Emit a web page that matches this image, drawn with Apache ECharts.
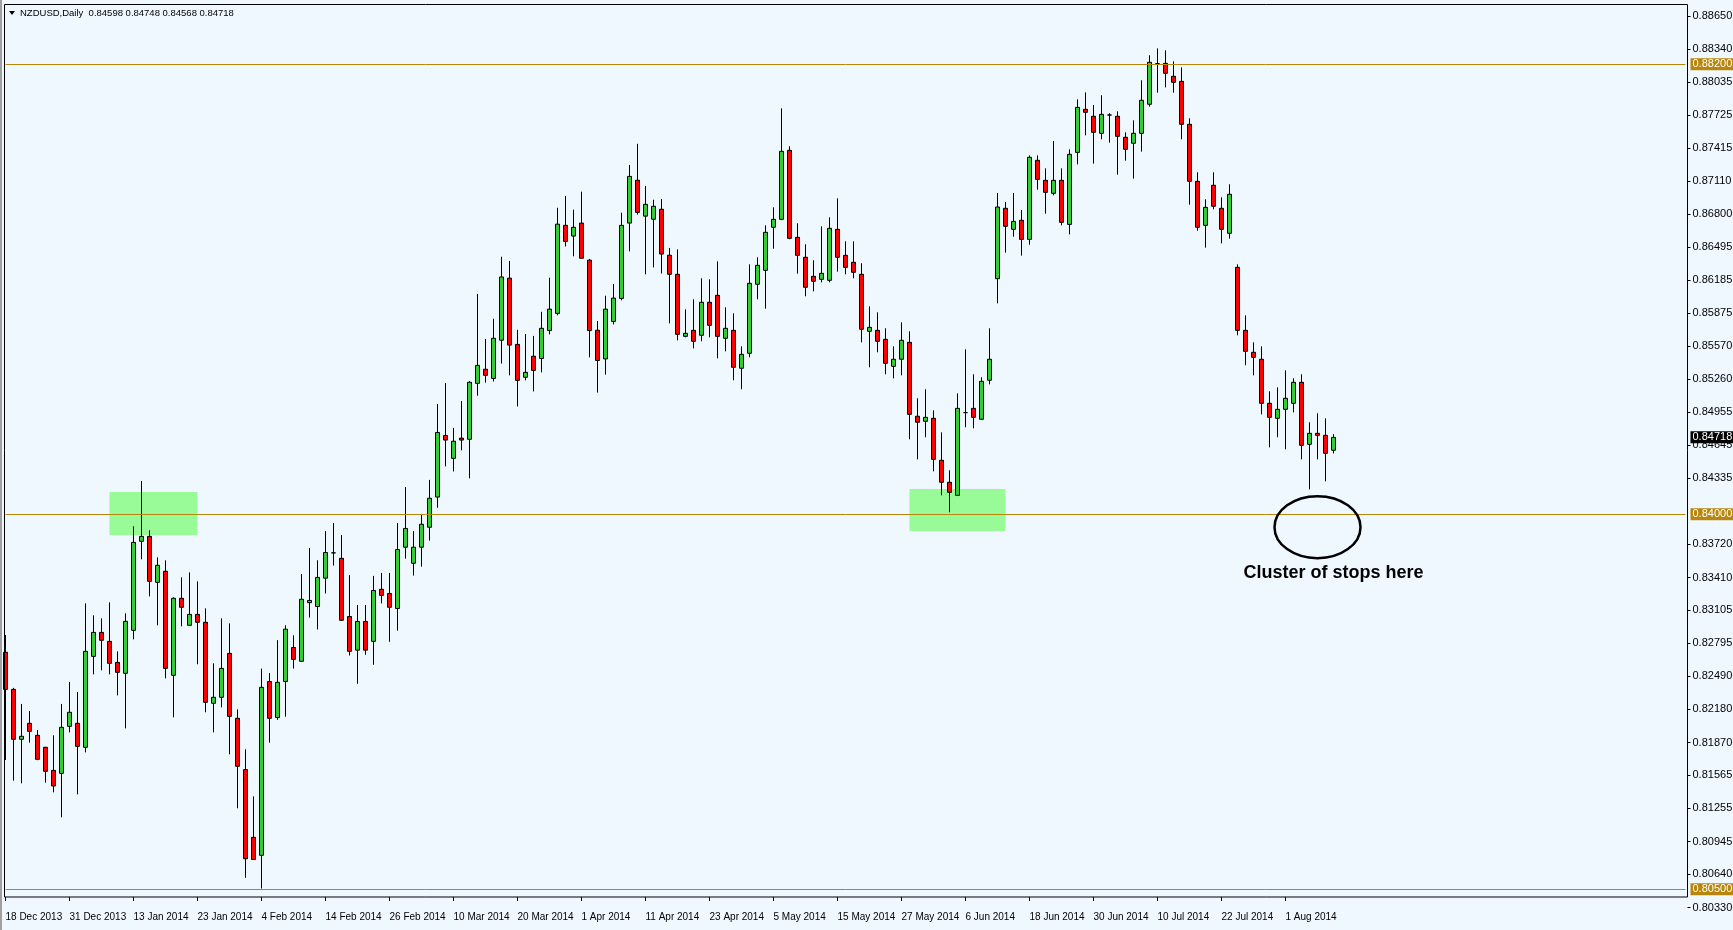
<!DOCTYPE html>
<html><head><meta charset="utf-8">
<script src="https://cdn.jsdelivr.net/npm/echarts@6/dist/echarts.min.js"></script>
<style>html,body{margin:0;padding:0;background:#F0F8FF;overflow:hidden}#c{width:1733px;height:930px}</style>
</head><body><div id="c"></div>
<script>
const dates = ['18 Dec 2013','19 Dec 2013','20 Dec 2013','23 Dec 2013','24 Dec 2013','26 Dec 2013','27 Dec 2013','30 Dec 2013','31 Dec 2013',
'2 Jan 2014','3 Jan 2014','6 Jan 2014','7 Jan 2014','8 Jan 2014','9 Jan 2014','10 Jan 2014','13 Jan 2014','14 Jan 2014','15 Jan 2014','16 Jan 2014','17 Jan 2014','20 Jan 2014','21 Jan 2014','22 Jan 2014','23 Jan 2014','24 Jan 2014','27 Jan 2014','28 Jan 2014','29 Jan 2014','30 Jan 2014','31 Jan 2014',
'3 Feb 2014','4 Feb 2014','5 Feb 2014','6 Feb 2014','7 Feb 2014','10 Feb 2014','11 Feb 2014','12 Feb 2014','13 Feb 2014','14 Feb 2014','17 Feb 2014','18 Feb 2014','19 Feb 2014','20 Feb 2014','21 Feb 2014','24 Feb 2014','25 Feb 2014','26 Feb 2014','27 Feb 2014','28 Feb 2014',
'3 Mar 2014','4 Mar 2014','5 Mar 2014','6 Mar 2014','7 Mar 2014','10 Mar 2014','11 Mar 2014','12 Mar 2014','13 Mar 2014','14 Mar 2014','17 Mar 2014','18 Mar 2014','19 Mar 2014','20 Mar 2014','21 Mar 2014','24 Mar 2014','25 Mar 2014','26 Mar 2014','27 Mar 2014','28 Mar 2014','31 Mar 2014',
'1 Apr 2014','2 Apr 2014','3 Apr 2014','4 Apr 2014','7 Apr 2014','8 Apr 2014','9 Apr 2014','10 Apr 2014','11 Apr 2014','14 Apr 2014','15 Apr 2014','16 Apr 2014','17 Apr 2014','18 Apr 2014','21 Apr 2014','22 Apr 2014','23 Apr 2014','24 Apr 2014','25 Apr 2014','28 Apr 2014','29 Apr 2014','30 Apr 2014',
'1 May 2014','2 May 2014','5 May 2014','6 May 2014','7 May 2014','8 May 2014','9 May 2014','12 May 2014','13 May 2014','14 May 2014','15 May 2014','16 May 2014','19 May 2014','20 May 2014','21 May 2014','22 May 2014','23 May 2014','26 May 2014','27 May 2014','28 May 2014','29 May 2014','30 May 2014',
'2 Jun 2014','3 Jun 2014','4 Jun 2014','5 Jun 2014','6 Jun 2014','9 Jun 2014','10 Jun 2014','11 Jun 2014','12 Jun 2014','13 Jun 2014','16 Jun 2014','17 Jun 2014','18 Jun 2014','19 Jun 2014','20 Jun 2014','23 Jun 2014','24 Jun 2014','25 Jun 2014','26 Jun 2014','27 Jun 2014','30 Jun 2014',
'1 Jul 2014','2 Jul 2014','3 Jul 2014','4 Jul 2014','7 Jul 2014','8 Jul 2014','9 Jul 2014','10 Jul 2014','11 Jul 2014','14 Jul 2014','15 Jul 2014','16 Jul 2014','17 Jul 2014','18 Jul 2014','21 Jul 2014','22 Jul 2014','23 Jul 2014','24 Jul 2014','25 Jul 2014','28 Jul 2014','29 Jul 2014','30 Jul 2014','31 Jul 2014',
'1 Aug 2014','4 Aug 2014','5 Aug 2014','6 Aug 2014','7 Aug 2014','8 Aug 2014','11 Aug 2014'];

const open = [0.82712,0.82366,0.81900,0.82049,0.81937,0.81825,0.81610,0.81582,0.82021,0.82049,
0.81825,0.82674,0.82898,0.82814,0.82618,0.82516,0.82917,0.83748,0.83794,0.83365,
0.83468,0.82497,0.83216,0.82964,0.83066,0.82992,0.82236,0.82292,0.82702,0.82096,
0.81617,0.80985,0.80817,0.82439,0.82103,0.82439,0.82757,0.82628,0.83175,0.83139,
0.83404,0.83640,0.83589,0.83046,0.82732,0.83000,0.82814,0.83300,0.83261,0.83121,
0.83693,0.83543,0.83693,0.83879,0.84161,0.84736,0.84522,0.84711,0.84700,0.85222,
0.85354,0.85268,0.85625,0.86204,0.85586,0.85279,0.85475,0.85454,0.85715,0.85875,
0.86697,0.86597,0.86718,0.86372,0.85718,0.85450,0.85800,0.86015,0.86718,0.87118,
0.86783,0.86754,0.86847,0.86418,0.86240,0.85661,0.85717,0.85671,0.85979,0.86044,
0.85643,0.85717,0.85363,0.85503,0.86147,0.86277,0.86679,0.86753,0.87397,0.86585,
0.86399,0.86221,0.86193,0.86184,0.86660,0.86417,0.86352,0.86240,0.85708,0.85717,
0.85633,0.85381,0.85447,0.85605,0.84915,0.84868,0.84896,0.84504,0.84299,0.84177,
0.84949,0.84989,0.84887,0.85251,0.86199,0.86856,0.86660,0.86744,0.86566,0.87304,
0.87117,0.86996,0.87117,0.86706,0.87378,0.87780,0.87715,0.87556,0.87727,0.87715,
0.87519,0.87463,0.87556,0.87827,0.88206,0.88209,0.88088,0.88041,0.87640,0.87108,
0.86697,0.87071,0.86856,0.86623,0.86305,0.85717,0.85512,0.85447,0.85036,0.84896,
0.84980,0.85036,0.85232,0.84653,0.84756,0.84737,0.84598];

const high = [0.82874,0.82380,0.82230,0.82164,0.81987,0.81830,0.81937,0.82230,0.82435,0.82342,
0.83169,0.83057,0.83029,0.83178,0.82721,0.83076,0.83888,0.84311,0.83850,0.83598,
0.83570,0.83225,0.83412,0.83458,0.83374,0.83122,0.82609,0.83029,0.82982,0.82179,
0.81807,0.81367,0.82560,0.82518,0.82825,0.82964,0.82871,0.83443,0.83686,0.83571,
0.83843,0.83918,0.83807,0.83432,0.83153,0.83153,0.83425,0.83453,0.83453,0.83918,
0.84254,0.83843,0.83996,0.84321,0.85029,0.85225,0.84807,0.85057,0.85243,0.86057,
0.85636,0.85825,0.86404,0.86365,0.85722,0.85682,0.85665,0.85890,0.86208,0.86861,
0.86972,0.86843,0.87011,0.86383,0.85804,0.86040,0.86150,0.86815,0.87261,0.87458,
0.87065,0.86936,0.86943,0.86486,0.86473,0.85913,0.86007,0.86203,0.86193,0.86361,
0.85932,0.85876,0.85568,0.86333,0.86399,0.86697,0.86865,0.87789,0.87435,0.86716,
0.86520,0.86371,0.86688,0.86772,0.86949,0.86548,0.86548,0.86343,0.85941,0.85885,
0.85736,0.85568,0.85792,0.85708,0.85083,0.85167,0.84971,0.84765,0.84411,0.85129,
0.85540,0.85307,0.85279,0.85736,0.86999,0.86915,0.86999,0.86840,0.87350,0.87350,
0.87229,0.87484,0.87229,0.87406,0.87873,0.87938,0.87820,0.87911,0.87743,0.87761,
0.87565,0.87677,0.88051,0.88284,0.88349,0.88331,0.88228,0.88172,0.87696,0.87192,
0.86940,0.87192,0.86959,0.87080,0.86333,0.85857,0.85605,0.85568,0.85148,0.85185,
0.85344,0.85269,0.85307,0.84859,0.84943,0.84896,0.84748];

const low = [0.81707,0.81514,0.81489,0.81869,0.81705,0.81495,0.81405,0.81172,0.81965,0.81386,
0.81778,0.82506,0.82544,0.82506,0.82310,0.82002,0.82833,0.83580,0.83234,0.82964,
0.82469,0.82105,0.82954,0.82960,0.82600,0.82152,0.81965,0.82198,0.81760,0.81256,
0.80607,0.80775,0.80507,0.81868,0.82082,0.82110,0.82560,0.82625,0.83036,0.82925,
0.83261,0.83521,0.83005,0.82682,0.82418,0.82689,0.82596,0.83168,0.82810,0.82914,
0.83586,0.83428,0.83511,0.83754,0.84061,0.84447,0.84400,0.84597,0.84336,0.85107,
0.85229,0.85239,0.85407,0.85297,0.85007,0.85250,0.85147,0.85325,0.85679,0.85857,
0.86500,0.86408,0.86390,0.85465,0.85136,0.85304,0.85772,0.85997,0.86454,0.86797,
0.86240,0.86304,0.86247,0.85782,0.85624,0.85652,0.85549,0.85615,0.85652,0.85456,
0.85521,0.85251,0.85167,0.85465,0.86007,0.85919,0.86479,0.86745,0.86567,0.86246,
0.86035,0.86081,0.86165,0.86165,0.86265,0.86240,0.86203,0.85605,0.85372,0.85512,
0.85307,0.85269,0.85297,0.84700,0.84513,0.84719,0.84401,0.84177,0.84019,0.84170,
0.84812,0.84803,0.84880,0.85213,0.85969,0.86442,0.86591,0.86414,0.86516,0.87030,
0.86806,0.86977,0.86697,0.86613,0.87266,0.87537,0.87273,0.87500,0.87469,0.87170,
0.87301,0.87133,0.87385,0.87805,0.87935,0.87985,0.87935,0.87500,0.86890,0.86647,
0.86489,0.86847,0.86529,0.86573,0.85671,0.85391,0.85297,0.84933,0.84625,0.84719,
0.84607,0.84952,0.84513,0.84233,0.84513,0.84308,0.84568];

const close = [0.82366,0.81900,0.81928,0.81974,0.81713,0.81601,0.81464,0.82012,0.82152,0.81834,
0.82721,0.82898,0.82824,0.82609,0.82525,0.83001,0.83738,0.83794,0.83374,0.83524,
0.82562,0.83216,0.83132,0.83066,0.82992,0.82245,0.82292,0.82562,0.82114,0.81648,
0.80785,0.80778,0.82385,0.82096,0.82432,0.82928,0.82646,0.83207,0.83196,0.83411,
0.83643,0.83640,0.83011,0.82721,0.83000,0.82732,0.83289,0.83243,0.83132,0.83671,
0.83868,0.83693,0.83907,0.84150,0.84764,0.84693,0.84682,0.84693,0.85232,0.85390,
0.85297,0.85643,0.86215,0.85579,0.85250,0.85325,0.85343,0.85736,0.85915,0.86708,
0.86547,0.86679,0.86390,0.85715,0.85436,0.85915,0.86018,0.86697,0.87154,0.86818,
0.86893,0.86875,0.86429,0.86240,0.85680,0.85689,0.85615,0.85979,0.85764,0.85661,
0.85736,0.85372,0.85493,0.86156,0.86324,0.86632,0.86753,0.87388,0.86576,0.86417,
0.86119,0.86175,0.86249,0.86669,0.86399,0.86305,0.86259,0.85727,0.85745,0.85615,
0.85409,0.85447,0.85624,0.84933,0.84859,0.84905,0.84513,0.84299,0.84205,0.84989,
0.84949,0.84905,0.85241,0.85447,0.86868,0.86688,0.86734,0.86566,0.87332,0.87126,
0.87005,0.87117,0.86725,0.87360,0.87798,0.87752,0.87565,0.87733,0.87727,0.87528,
0.87407,0.87556,0.87864,0.88219,0.88206,0.88116,0.88032,0.87640,0.87108,0.86679,
0.86865,0.86875,0.86660,0.86987,0.85717,0.85521,0.85465,0.85036,0.84905,0.84980,
0.85083,0.85232,0.84644,0.84756,0.84737,0.84569,0.84718];

const yTickLabels = ['0.88650','0.88340','0.88035','0.87725','0.87415','0.87110','0.86800','0.86495','0.86185',
'0.85875','0.85570','0.85260','0.84955','0.84645','0.84335','0.83720','0.83410','0.83105','0.82795','0.82490',
'0.82180','0.81870','0.81565','0.81255','0.80945','0.80640','0.80330'];

const levelLines = ['0.88200','0.84000','0.80500'];
const lastPrice = '0.84718';
const header = 'NZDUSD,Daily  0.84598 0.84748 0.84568 0.84718';
// green zones: [from date index, to date index, upper price, lower price]
const zoneFrom = [13, 113];
const zoneTo = [24, 125];
const zoneTop = [0.84208, 0.84236];
const zoneBottom = [0.83807, 0.83844];
const noteText = 'Cluster of stops here';
const ellipseAnchor = [164, 0.83880];
const noteAnchor = [166, 0.83452];

// ---- layout ----
const SLOTS = 211;
const GRID_LEFT = 5.5, GRID_TOP = 4, GRID_W = 1680, GRID_BOTTOM_PX = 907.5;
const FRAME = {x: 4.5, y: 4.5, w: 1683, h: 892.5};
const Y_MIN = 0.80330, Y_MAX = 0.887629;
const FONT = '"Liberation Sans", Arial, sans-serif';
const GOLD = '#B8860B';

const cats = dates.slice();
for (let k = dates.length; k < SLOTS; k++) cats.push('\u200b' + k);
const candles = dates.map((d, i) => [open[i], close[i], low[i], high[i]]);
const showIdx = (idx) => idx % 8 === 0 && idx < dates.length;

const chart = echarts.init(document.getElementById('c'), null, {renderer: 'canvas'});
const lvlLabel = (txt, bg) => ({
  show: true, position: 'end', distance: 5, formatter: txt,
  color: '#fff', backgroundColor: bg, padding: [1, 2, 0, 2], fontSize: 11, fontFamily: FONT
});

chart.setOption({
  animation: false,
  backgroundColor: '#F0F8FF',
  grid: {left: GRID_LEFT, top: GRID_TOP, width: GRID_W, bottom: 930 - GRID_BOTTOM_PX, containLabel: false, outerBoundsMode: 'none'},
  xAxis: {
    type: 'category', data: cats, boundaryGap: false, offset: -10.5,
    axisLine: {show: false},
    axisTick: {show: true, interval: showIdx, length: 4, lineStyle: {color: '#000', width: 1}},
    axisLabel: {interval: showIdx, align: 'left', margin: 15, fontSize: 10, color: '#000', fontFamily: FONT},
    splitLine: {show: false}
  },
  yAxis: {
    type: 'value', position: 'right', min: Y_MIN, max: Y_MAX, offset: 2, scale: true,
    axisLine: {show: false},
    axisTick: {show: true, length: 3, lineStyle: {color: '#000'}, customValues: yTickLabels.map(Number)},
    axisLabel: {margin: 5, fontSize: 11, color: '#000', fontFamily: FONT, customValues: yTickLabels.map(Number),
      formatter: (v) => v.toFixed(5)},
    splitLine: {show: false}
  },
  series: [
    {
      type: 'line', data: [], z: 1, silent: true,
      markArea: {silent: true, precision: 5, itemStyle: {color: '#98FB98', opacity: 1},
        data: zoneFrom.map((f, k) => [{xAxis: cats[f], yAxis: zoneTop[k]}, {xAxis: cats[zoneTo[k]], yAxis: zoneBottom[k]}])}
    },
    {
      type: 'line', data: [], z: 2, silent: true,
      markLine: {silent: true, precision: 5, symbol: ['none', 'none'], animation: false,
        lineStyle: {color: GOLD, width: 1, type: 'solid'},
        emphasis: {disabled: true},
        data: levelLines.map(v => ({yAxis: Number(v), label: lvlLabel(v, GOLD)})).concat([
          {yAxis: Number(lastPrice), lineStyle: {color: 'rgba(0,0,0,0)', width: 0}, label: lvlLabel(lastPrice, '#000')}
        ])}
    },
    {
      type: 'candlestick', z: 3, data: candles, barWidth: 4, clip: true,
      itemStyle: {color: '#32CD32', color0: '#FF0000', borderColor: '#000', borderColor0: '#000',
        borderColorDoji: '#000', borderWidth: 1},
      emphasis: {disabled: true}
    }
  ]
});

const e = chart.convertToPixel({gridIndex: 0}, [cats[ellipseAnchor[0]], ellipseAnchor[1]]);
const n = chart.convertToPixel({gridIndex: 0}, [cats[noteAnchor[0]], noteAnchor[1]]);

chart.setOption({
  graphic: [
    {type: 'rect', silent: true, z: 100, shape: {x: FRAME.x, y: FRAME.y, width: FRAME.w, height: FRAME.h},
      style: {fill: null, stroke: '#000', lineWidth: 1}},
    {type: 'rect', silent: true, z: 100, shape: {x: 0, y: 0, width: 2, height: 930}, style: {fill: '#A0A0A0'}},
    {type: 'polygon', silent: true, z: 100, shape: {points: [[9, 11], [15, 11], [12, 15]]}, style: {fill: '#000'}},
    {type: 'text', silent: true, z: 100, style: {text: header, x: 20, y: 13, textVerticalAlign: 'middle',
      font: '9.5px ' + FONT, fill: '#000'}},
    {type: 'ellipse', silent: true, z: 100, shape: {cx: e[0], cy: e[1], rx: 43, ry: 31},
      style: {fill: null, stroke: '#000', lineWidth: 2.5}},
    {type: 'text', silent: true, z: 100, style: {text: noteText, x: n[0], y: n[1], textAlign: 'center',
      textVerticalAlign: 'middle', font: 'bold 18px ' + FONT, fill: '#000'}}
  ]
});
</script>
</body></html>
